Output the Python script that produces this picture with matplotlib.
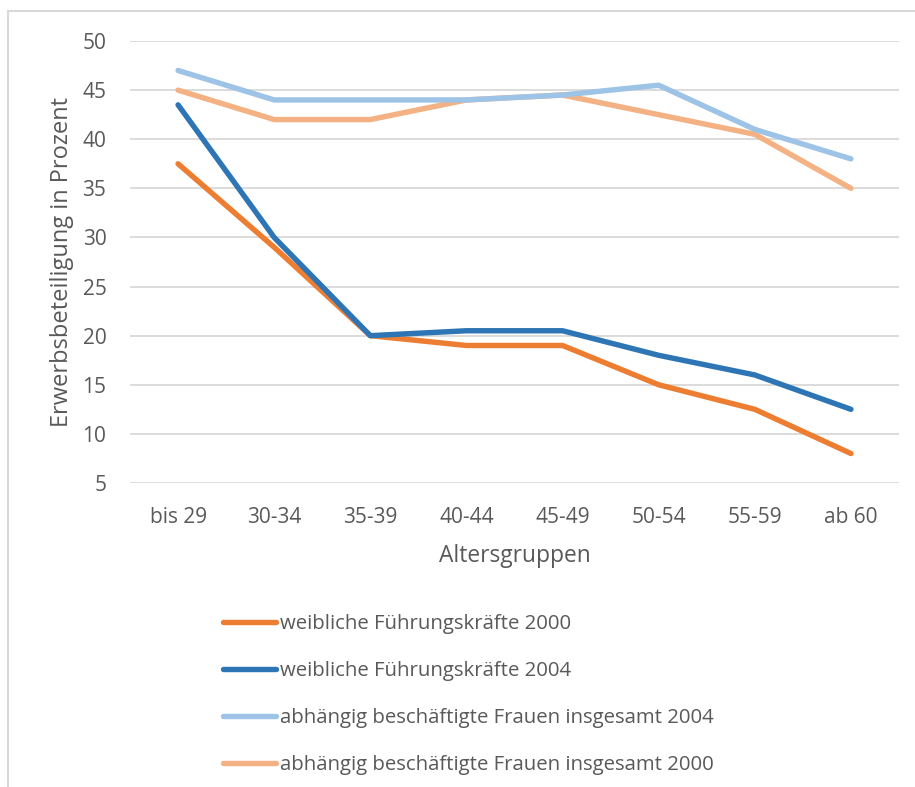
import matplotlib
matplotlib.use("Agg")
import matplotlib.pyplot as plt
from matplotlib.patches import Rectangle

categories = ["bis 29", "30-34", "35-39", "40-44", "45-49", "50-54", "55-59", "ab 60"]
fk_2000 = [37.5, 29, 20, 19, 19, 15, 12.5, 8]
fk_2004 = [43.5, 30, 20, 20.5, 20.5, 18, 16, 12.5]
frauen_2004 = [47, 44, 44, 44, 44.5, 45.5, 41, 38]
frauen_2000 = [45, 42, 42, 44, 44.5, 42.5, 40.5, 35]
labels = ["weibliche Führungskräfte 2000", "weibliche Führungskräfte 2004",
          "abhängig beschäftigte Frauen insgesamt 2004",
          "abhängig beschäftigte Frauen insgesamt 2000"]
yticks = [5, 10, 15, 20, 25, 30, 35, 40, 45, 50]

plt.rcParams['font.family'] = ['Open Sans', 'DejaVu Sans']
txt = '#595959'
W, H = 915, 787
fig = plt.figure(figsize=(W/100, H/100), dpi=100)
fig.patches.append(Rectangle((8/W, -0.1), 1.2, 1 - 11/H + 0.1, transform=fig.transFigure,
                             fill=False, edgecolor='#d9d9d9', linewidth=1.5))

ax = fig.add_axes([130/W, 1 - 483/H, (899-130)/W, (483-41)/H])
x = list(range(len(categories)))
colors = ['#ED7D31', '#2E75B6', '#9DC3E6', '#F4B183']
series = [fk_2000, fk_2004, frauen_2004, frauen_2000]
order = [3, 2, 0, 1]
lines = {}
for i in order:
    ln, = ax.plot(x, series[i], color=colors[i], linewidth=3.9, solid_capstyle='round',
                  solid_joinstyle='round', label=labels[i], zorder=3)
    lines[i] = ln

ax.set_xlim(-0.5, len(categories) - 0.5)
ax.set_ylim(5, 50)
ax.set_yticks(yticks)
ax.set_xticks(x)
ax.set_xticklabels(categories)
ax.grid(axis='y', color='#d9d9d9', linewidth=1.3)
ax.set_axisbelow(True)
for s in ax.spines.values():
    s.set_visible(False)
ax.tick_params(axis='both', length=0, labelsize=15, colors=txt)
ax.tick_params(axis='x', pad=17)
ax.tick_params(axis='y', pad=17)
ax.set_xlabel("Altersgruppen", fontsize=16.4, color=txt, labelpad=12)
ax.set_ylabel("Erwerbsbeteiligung in Prozent", fontsize=17, color=txt, labelpad=6)

leg = fig.legend([lines[i] for i in range(4)], labels, loc='upper left',
                 bbox_to_anchor=(205/W, 1 - 596/H), frameon=False, fontsize=14.7,
                 labelcolor=txt, handlelength=2.6, handletextpad=0.15, labelspacing=1.32)

fig.savefig("out.png", dpi=100)
